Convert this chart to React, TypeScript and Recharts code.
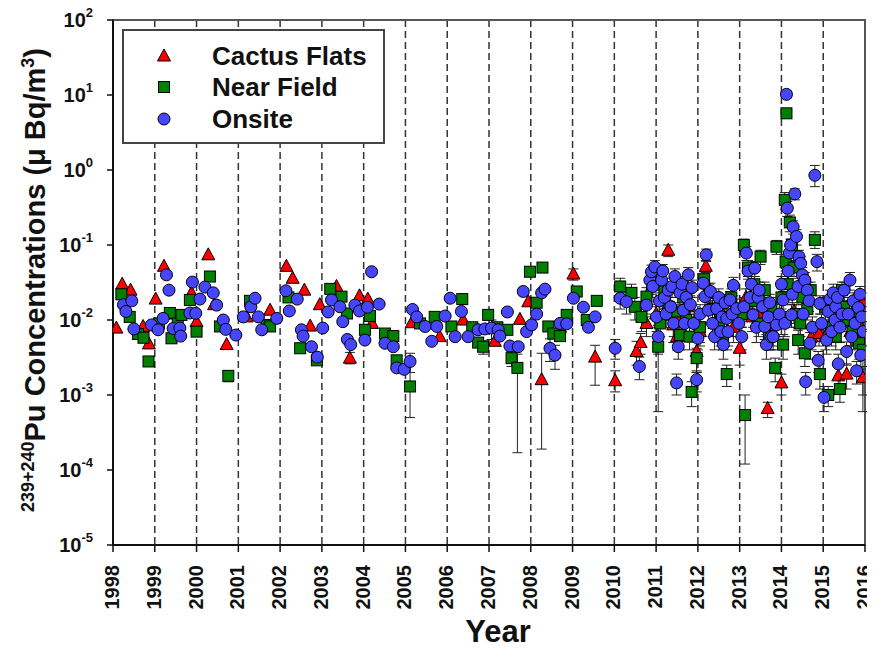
import React from 'react';
import {
  ScatterChart,
  Scatter,
  XAxis,
  YAxis,
  CartesianGrid,
  ErrorBar,
  Legend,
  ReferenceArea,
} from 'recharts';

// [year, value, bar low end, bar high end] ; bar ends only where the bar is visible
type Pt = [number, number, number?, number?];

const years = [
  1998, 1999, 2000, 2001, 2002, 2003, 2004, 2005, 2006, 2007, 2008, 2009, 2010, 2011, 2012,
  2013, 2014, 2015, 2016,
];
const decades = [1e-5, 1e-4, 1e-3, 1e-2, 1e-1, 1, 10, 100];

const cactusFlats: Pt[] = [
  [1998.08, 0.0078], [1998.22, 0.03], [1998.42, 0.025], [1998.72, 0.0082], [1998.86, 0.0048],
  [1999.02, 0.019], [1999.22, 0.052], [1999.46, 0.012], [1999.88, 0.023], [2000.0, 0.0095],
  [2000.28, 0.074], [2000.42, 0.016], [2000.72, 0.0047], [2001.2, 0.011], [2001.76, 0.0135],
  [2002.15, 0.052], [2002.3, 0.036], [2002.58, 0.025], [2002.72, 0.0083], [2002.95, 0.016],
  [2003.35, 0.028], [2003.67, 0.0031, 0.0026, 0.0037], [2003.9, 0.021], [2004.1, 0.019],
  [2004.2, 0.009], [2004.55, 0.0054], [2005.15, 0.0092], [2005.82, 0.006], [2006.38, 0.01],
  [2007.14, 0.0052], [2007.74, 0.0102], [2007.94, 0.0175], [2008.26, 0.0016, 0.00019, 0.0036],
  [2008.7, 0.008], [2009.02, 0.041, 0.034, 0.048], [2009.54, 0.0032, 0.00135, 0.0046],
  [2010.02, 0.00155, 0.0011, 0.0021], [2010.53, 0.0038, 0.0025, 0.0052],
  [2010.63, 0.005, 0.0035, 0.0066], [2010.77, 0.009, 0.006, 0.012], [2011.0, 0.012, 0.008, 0.016],
  [2011.15, 0.02, 0.014, 0.026], [2011.29, 0.085, 0.07, 0.1], [2011.41, 0.0086, 0.005, 0.012],
  [2011.5, 0.006, 0.004, 0.008], [2011.6, 0.011, 0.007, 0.015], [2011.8, 0.015, 0.01, 0.02],
  [2011.97, 0.0038, 0.002, 0.0056], [2012.05, 0.007, 0.0045, 0.0095],
  [2012.19, 0.052, 0.043, 0.062], [2012.4, 0.009, 0.006, 0.012], [2012.55, 0.013, 0.009, 0.017],
  [2012.7, 0.007, 0.004, 0.01], [2012.85, 0.008, 0.005, 0.011], [2013.0, 0.0042, 0.0025, 0.006],
  [2013.15, 0.02, 0.014, 0.026], [2013.3, 0.011, 0.007, 0.015], [2013.45, 0.012, 0.008, 0.016],
  [2013.67, 0.00066, 0.0005, 0.0008], [2013.8, 0.007, 0.0045, 0.0095],
  [2014.0, 0.00145, 0.001, 0.0019], [2014.15, 0.03, 0.022, 0.038], [2014.3, 0.013, 0.009, 0.017],
  [2014.45, 0.009, 0.006, 0.012], [2014.6, 0.02, 0.014, 0.026], [2014.72, 0.006, 0.004, 0.008],
  [2014.9, 0.0066, 0.0045, 0.009], [2015.05, 0.006, 0.004, 0.008], [2015.2, 0.009, 0.006, 0.012],
  [2015.36, 0.0018, 0.0012, 0.0024], [2015.45, 0.012, 0.008, 0.016],
  [2015.56, 0.0019, 0.0012, 0.0026], [2015.65, 0.007, 0.0045, 0.0095],
  [2015.75, 0.012, 0.008, 0.016], [2015.85, 0.009, 0.006, 0.012], [2015.92, 0.018, 0.013, 0.023],
  [2015.95, 0.0017, 0.001, 0.0024],
];

const nearField: Pt[] = [
  [1998.2, 0.022], [1998.4, 0.011], [1998.6, 0.0065], [1998.73, 0.0058],
  [1998.85, 0.0028, 0.0024, 0.0032], [1999.1, 0.009], [1999.36, 0.0124], [1999.4, 0.0057],
  [1999.55, 0.009], [1999.64, 0.0117], [1999.84, 0.0185], [2000.0, 0.007], [2000.32, 0.038],
  [2000.56, 0.0082], [2000.76, 0.0018, 0.0015, 0.0021], [2001.28, 0.018], [2001.68, 0.0086],
  [2001.76, 0.0082], [2002.2, 0.02], [2002.48, 0.0042], [2002.88, 0.0029], [2003.2, 0.026],
  [2003.47, 0.0205], [2003.6, 0.0122], [2004.03, 0.0074], [2004.15, 0.0113], [2004.51, 0.0066],
  [2004.71, 0.0061], [2004.79, 0.0029], [2005.11, 0.0013, 0.0005, 0.0025], [2005.35, 0.009],
  [2005.7, 0.011], [2006.1, 0.0082], [2006.36, 0.019], [2006.6, 0.008], [2006.74, 0.005],
  [2006.86, 0.0044, 0.0035, 0.0053], [2006.98, 0.0117], [2007.2, 0.008], [2007.44, 0.0074],
  [2007.54, 0.0031, 0.0024, 0.0038], [2007.68, 0.0023, 0.00017, 0.0035], [2007.98, 0.044],
  [2008.14, 0.017], [2008.28, 0.05], [2008.42, 0.0082], [2008.54, 0.0066], [2008.7, 0.0061],
  [2008.86, 0.0117], [2009.1, 0.024], [2009.34, 0.01], [2009.58, 0.018],
  [2010.14, 0.028, 0.02, 0.036], [2010.41, 0.023, 0.016, 0.03], [2010.49, 0.015, 0.01, 0.02],
  [2010.65, 0.011, 0.007, 0.015], [2010.77, 0.0205, 0.014, 0.027], [2010.9, 0.03, 0.022, 0.038],
  [2011.05, 0.0044, 0.0006, 0.0085], [2011.1, 0.009, 0.006, 0.012], [2011.2, 0.025, 0.018, 0.032],
  [2011.3, 0.015, 0.01, 0.02], [2011.45, 0.013, 0.009, 0.017], [2011.57, 0.0063, 0.004, 0.0085],
  [2011.65, 0.02, 0.014, 0.026], [2011.72, 0.01, 0.007, 0.013], [2011.8, 0.006, 0.004, 0.008],
  [2011.85, 0.0011, 0.0007, 0.0015], [2011.97, 0.0031, 0.002, 0.0042],
  [2012.05, 0.008, 0.005, 0.011], [2012.15, 0.035, 0.026, 0.044], [2012.27, 0.023, 0.016, 0.03],
  [2012.35, 0.014, 0.01, 0.018], [2012.5, 0.009, 0.006, 0.012], [2012.6, 0.006, 0.004, 0.008],
  [2012.69, 0.0019, 0.0013, 0.0025], [2012.8, 0.02, 0.014, 0.026], [2012.9, 0.012, 0.008, 0.016],
  [2013.05, 0.012, 0.008, 0.016], [2013.1, 0.1, 0.08, 0.12], [2013.13, 0.00054, 0.00012, 0.001],
  [2013.2, 0.05, 0.038, 0.062], [2013.3, 0.018, 0.013, 0.023], [2013.35, 0.03, 0.022, 0.038],
  [2013.45, 0.009, 0.006, 0.012], [2013.5, 0.07, 0.055, 0.085], [2013.6, 0.025, 0.018, 0.032],
  [2013.7, 0.006, 0.004, 0.008], [2013.76, 0.015, 0.01, 0.02], [2013.85, 0.0023, 0.0015, 0.0031],
  [2013.88, 0.095, 0.075, 0.115], [2014.0, 0.02, 0.014, 0.026], [2014.04, 0.0047, 0.003, 0.0064],
  [2014.08, 0.4, 0.3, 0.5], [2014.1, 0.06, 0.045, 0.075], [2014.12, 5.7, 5.0, 6.4],
  [2014.15, 0.03, 0.022, 0.038], [2014.2, 0.2, 0.15, 0.25], [2014.25, 0.1, 0.08, 0.12],
  [2014.3, 0.05, 0.038, 0.062], [2014.35, 0.012, 0.008, 0.016], [2014.4, 0.0054, 0.0035, 0.0073],
  [2014.45, 0.009, 0.006, 0.012], [2014.5, 0.02, 0.014, 0.026], [2014.56, 0.0036, 0.0024, 0.0048],
  [2014.62, 0.014, 0.01, 0.018], [2014.7, 0.025, 0.018, 0.032], [2014.8, 0.117, 0.09, 0.15],
  [2014.92, 0.0019, 0.0012, 0.0026], [2015.05, 0.015, 0.01, 0.02], [2015.12, 0.001, 0.0007, 0.0013],
  [2015.2, 0.008, 0.005, 0.011], [2015.3, 0.006, 0.004, 0.008], [2015.4, 0.0012, 0.0008, 0.0016],
  [2015.45, 0.025, 0.018, 0.032], [2015.5, 0.015, 0.01, 0.02], [2015.6, 0.01, 0.007, 0.013],
  [2015.7, 0.007, 0.0045, 0.0095], [2015.8, 0.013, 0.009, 0.017], [2015.86, 0.0049, 0.003, 0.0068],
  [2015.95, 0.004, 0.0006, 0.0075],
];

const onsite: Pt[] = [
  [1998.25, 0.016], [1998.31, 0.013], [1998.45, 0.018], [1998.5, 0.0076], [1998.92, 0.0086],
  [1999.08, 0.0074], [1999.2, 0.0105], [1999.28, 0.04], [1999.34, 0.025], [1999.44, 0.0077],
  [1999.6, 0.0078], [1999.62, 0.0061], [1999.84, 0.0124], [1999.9, 0.032], [1999.98, 0.0123],
  [2000.08, 0.019], [2000.2, 0.0275], [2000.4, 0.023], [2000.48, 0.0158], [2000.64, 0.01],
  [2000.7, 0.0075], [2000.94, 0.0063], [2001.12, 0.011], [2001.3, 0.015], [2001.4, 0.0195],
  [2001.48, 0.011], [2001.56, 0.0074], [2001.92, 0.0105], [2002.14, 0.0245], [2002.22, 0.0132],
  [2002.41, 0.019], [2002.51, 0.0074], [2002.55, 0.0061], [2002.75, 0.0044], [2002.89, 0.0032],
  [2003.02, 0.0078], [2003.15, 0.0128], [2003.23, 0.0185], [2003.43, 0.015], [2003.5, 0.0095],
  [2003.61, 0.0055], [2003.69, 0.0047], [2003.79, 0.0158], [2003.9, 0.0132], [2004.03, 0.0054],
  [2004.09, 0.0148], [2004.19, 0.044], [2004.37, 0.0163], [2004.51, 0.0049], [2004.71, 0.0044],
  [2004.79, 0.0023], [2004.97, 0.0022], [2005.11, 0.0028, 0.002, 0.0036], [2005.17, 0.0138],
  [2005.27, 0.011], [2005.47, 0.0082], [2005.63, 0.0052], [2005.75, 0.0082], [2005.95, 0.0113],
  [2006.07, 0.0195], [2006.19, 0.006], [2006.34, 0.013], [2006.5, 0.006], [2006.74, 0.0074],
  [2006.9, 0.0076], [2007.06, 0.0078, 0.0055, 0.01], [2007.22, 0.0074], [2007.26, 0.0061],
  [2007.44, 0.0128], [2007.5, 0.0045], [2007.7, 0.0044], [2007.82, 0.024], [2007.9, 0.007],
  [2008.02, 0.0086], [2008.14, 0.012], [2008.26, 0.023], [2008.34, 0.0258],
  [2008.46, 0.0042, 0.0028, 0.0056], [2008.58, 0.0034, 0.0022, 0.0046], [2008.7, 0.009],
  [2008.86, 0.0089], [2009.02, 0.0195], [2009.26, 0.0148], [2009.38, 0.008], [2009.54, 0.011],
  [2010.02, 0.0042, 0.003, 0.0055], [2010.14, 0.0195, 0.014, 0.025], [2010.29, 0.0175, 0.012, 0.023],
  [2010.6, 0.0024, 0.0016, 0.0032], [2010.77, 0.0158, 0.011, 0.021], [2010.85, 0.034, 0.025, 0.043],
  [2010.89, 0.044, 0.034, 0.054], [2010.92, 0.028, 0.02, 0.036], [2010.97, 0.051, 0.04, 0.062],
  [2011.01, 0.011, 0.007, 0.015], [2011.05, 0.006, 0.0035, 0.0085], [2011.08, 0.018, 0.013, 0.023],
  [2011.13, 0.034, 0.025, 0.043], [2011.16, 0.045, 0.035, 0.055], [2011.2, 0.02, 0.014, 0.026],
  [2011.24, 0.012, 0.008, 0.016], [2011.29, 0.025, 0.018, 0.032], [2011.35, 0.015, 0.01, 0.02],
  [2011.38, 0.028, 0.02, 0.036], [2011.42, 0.009, 0.006, 0.012], [2011.45, 0.038, 0.028, 0.048],
  [2011.49, 0.00145, 0.001, 0.0019], [2011.53, 0.0044, 0.003, 0.0058], [2011.57, 0.023, 0.016, 0.03],
  [2011.62, 0.03, 0.022, 0.038], [2011.65, 0.0135, 0.009, 0.018], [2011.68, 0.009, 0.006, 0.012],
  [2011.72, 0.02, 0.014, 0.026], [2011.77, 0.04, 0.03, 0.05], [2011.82, 0.016, 0.011, 0.021],
  [2011.86, 0.027, 0.02, 0.034], [2011.9, 0.009, 0.006, 0.012], [2011.97, 0.0016, 0.0011, 0.0021],
  [2012.0, 0.0057, 0.004, 0.0075], [2012.05, 0.012, 0.008, 0.016], [2012.13, 0.031, 0.022, 0.04],
  [2012.17, 0.0205, 0.014, 0.027], [2012.2, 0.074, 0.06, 0.088], [2012.25, 0.0135, 0.009, 0.018],
  [2012.3, 0.024, 0.017, 0.031], [2012.35, 0.009, 0.006, 0.012], [2012.4, 0.006, 0.004, 0.008],
  [2012.45, 0.0142, 0.01, 0.019], [2012.5, 0.02, 0.014, 0.026], [2012.55, 0.007, 0.0045, 0.0095],
  [2012.58, 0.011, 0.007, 0.015], [2012.61, 0.0047, 0.003, 0.0064], [2012.65, 0.017, 0.012, 0.022],
  [2012.69, 0.0105, 0.007, 0.014], [2012.72, 0.007, 0.0045, 0.0095], [2012.77, 0.0185, 0.013, 0.024],
  [2012.82, 0.012, 0.008, 0.016], [2012.85, 0.029, 0.021, 0.037], [2012.93, 0.0142, 0.01, 0.019],
  [2012.98, 0.009, 0.006, 0.012], [2013.05, 0.006, 0.004, 0.008], [2013.1, 0.015, 0.01, 0.02],
  [2013.16, 0.078, 0.062, 0.095], [2013.2, 0.045, 0.035, 0.055], [2013.25, 0.02, 0.014, 0.026],
  [2013.28, 0.03, 0.022, 0.038], [2013.32, 0.0117, 0.008, 0.016], [2013.36, 0.049, 0.038, 0.06],
  [2013.4, 0.008, 0.005, 0.011], [2013.44, 0.02, 0.014, 0.026], [2013.47, 0.025, 0.018, 0.032],
  [2013.55, 0.015, 0.01, 0.02], [2013.6, 0.0082, 0.0055, 0.011], [2013.64, 0.0047, 0.003, 0.0064],
  [2013.68, 0.011, 0.007, 0.015], [2013.72, 0.017, 0.012, 0.022], [2013.75, 0.006, 0.004, 0.008],
  [2013.8, 0.006, 0.004, 0.008], [2013.88, 0.0086, 0.006, 0.011], [2013.95, 0.012, 0.008, 0.016],
  [2014.0, 0.03, 0.022, 0.038], [2014.04, 0.0185, 0.013, 0.024], [2014.08, 0.009, 0.006, 0.012],
  [2014.12, 10.2, 9.0, 11.5], [2014.14, 0.31, 0.24, 0.38], [2014.16, 0.045, 0.035, 0.055],
  [2014.19, 0.078, 0.06, 0.096], [2014.22, 0.1, 0.08, 0.12], [2014.24, 0.0117, 0.008, 0.016],
  [2014.26, 0.022, 0.016, 0.028], [2014.28, 0.175, 0.14, 0.21], [2014.32, 0.48, 0.4, 0.56],
  [2014.36, 0.13, 0.1, 0.16], [2014.4, 0.028, 0.02, 0.036], [2014.42, 0.07, 0.055, 0.085],
  [2014.46, 0.057, 0.045, 0.07], [2014.5, 0.04, 0.03, 0.05], [2014.52, 0.012, 0.008, 0.016],
  [2014.56, 0.034, 0.025, 0.043], [2014.58, 0.0015, 0.001, 0.002], [2014.62, 0.025, 0.018, 0.032],
  [2014.66, 0.018, 0.013, 0.023], [2014.68, 0.0049, 0.003, 0.0068], [2014.74, 0.008, 0.005, 0.011],
  [2014.8, 0.85, 0.6, 1.15], [2014.85, 0.06, 0.045, 0.075], [2014.88, 0.0029, 0.002, 0.0038],
  [2014.92, 0.0166, 0.012, 0.021], [2014.96, 0.009, 0.006, 0.012], [2015.02, 0.00093, 0.0006, 0.0013],
  [2015.08, 0.0054, 0.0035, 0.0073], [2015.12, 0.013, 0.009, 0.017], [2015.16, 0.019, 0.013, 0.025],
  [2015.2, 0.007, 0.0045, 0.0095], [2015.24, 0.023, 0.016, 0.03], [2015.28, 0.01, 0.007, 0.013],
  [2015.3, 0.015, 0.01, 0.02], [2015.34, 0.02, 0.014, 0.026], [2015.36, 0.0026, 0.0017, 0.0035],
  [2015.4, 0.008, 0.005, 0.011], [2015.45, 0.012, 0.008, 0.016], [2015.5, 0.025, 0.018, 0.032],
  [2015.56, 0.0038, 0.0025, 0.0051], [2015.6, 0.012, 0.008, 0.016], [2015.64, 0.034, 0.025, 0.043],
  [2015.68, 0.006, 0.004, 0.008], [2015.72, 0.018, 0.013, 0.023], [2015.76, 0.009, 0.006, 0.012],
  [2015.8, 0.0021, 0.0014, 0.0028], [2015.84, 0.0146, 0.01, 0.019], [2015.88, 0.022, 0.016, 0.028],
  [2015.9, 0.0034, 0.0022, 0.0046], [2015.92, 0.011, 0.007, 0.015], [2015.96, 0.007, 0.0045, 0.0095],
];

const FONT = '"Liberation Sans", Arial, Helvetica, sans-serif';

const seriesList = [
  { name: 'Cactus Flats', color: '#ff0000', kind: 'triangle', points: cactusFlats },
  { name: 'Near Field', color: '#008000', kind: 'square', points: nearField },
  { name: 'Onsite', color: '#4646ff', kind: 'circle', points: onsite },
];

const toRows = (pts: Pt[]) =>
  pts.map(([x, y, lo, hi]) => ({
    x,
    y,
    err: lo != null && hi != null ? [y - lo, hi - y] : undefined,
  }));

const Marker = ({ cx, cy, kind, fill }: any) => {
  if (cx == null || cy == null) return null;
  if (kind === 'triangle') {
    return (
      <polygon
        points={`${cx},${cy - 7} ${cx + 6.5},${cy + 5} ${cx - 6.5},${cy + 5}`}
        fill={fill}
        stroke="#000"
        strokeWidth={1}
      />
    );
  }
  if (kind === 'square') {
    return <rect x={cx - 5.5} y={cy - 5.5} width={11} height={11} fill={fill} stroke="#000" strokeWidth={1} />;
  }
  return <circle cx={cx} cy={cy} r={6} fill={fill} stroke="#000" strokeWidth={1} />;
};

const YearTick = ({ x, y, payload }: any) => (
  <text
    transform={`rotate(-90 ${x + 6} ${y})`}
    x={x + 6}
    y={y}
    textAnchor="end"
    fontSize={20}
    fontWeight="bold"
    fontFamily={FONT}
    fill="#111"
  >
    {payload.value}
  </text>
);

const DecadeTick = ({ x, y, payload }: any) => {
  const exp = Math.round(Math.log10(payload.value));
  return (
    <text x={x - 10} y={y} textAnchor="end" fontWeight="bold" fontFamily={FONT} fill="#111">
      <tspan fontSize={20} dy={7}>10</tspan>
      <tspan fontSize={13} dy={-10}>{exp}</tspan>
    </text>
  );
};

const YLabel = () => (
  <text
    transform="rotate(-90 37 272)"
    x={37}
    y={272}
    textAnchor="middle"
    fontWeight="bold"
    fontFamily={FONT}
    fontSize={29}
    fill="#111"
  >
    <tspan fontSize={18} dy={-11}>239+240</tspan>
    <tspan dy={11}>Pu Concentrations (μ Bq/m</tspan>
    <tspan fontSize={18} dy={-11}>3</tspan>
    <tspan dy={11}>)</tspan>
  </text>
);

const XLabel = () => (
  <text x={490} y={634} textAnchor="middle" fontWeight="bold" fontFamily={FONT} fontSize={31} fill="#111">
    Year
  </text>
);

const LegendBox = () => (
  <div
    style={{
      width: 263,
      height: 115,
      boxSizing: 'border-box',
      border: '2px solid #444',
      background: '#fff',
      paddingTop: 9,
      fontFamily: FONT,
      fontWeight: 'bold',
      fontSize: 26,
      color: '#111',
    }}
  >
    {seriesList.map((s) => (
      <div key={s.name} style={{ display: 'flex', alignItems: 'center', height: 31.5 }}>
        <svg width={88} height={20} style={{ flex: 'none' }}>
          <Marker cx={40} cy={10} kind={s.kind} fill={s.color} />
        </svg>
        <span style={{ lineHeight: '26px' }}>{s.name}</span>
      </div>
    ))}
  </div>
);

export default function App() {
  return (
    <div style={{ width: 867, height: 642 }}>
      <style>{`body { margin-bottom: 0; } .recharts-surface, .recharts-wrapper { overflow: visible; }`}</style>
      <ScatterChart width={867} height={642} margin={{ top: 12, right: 10, bottom: 8, left: 0 }}>
        <CartesianGrid vertical horizontal={false} stroke="#333" strokeWidth={1.5} strokeDasharray="7 4" />
        <XAxis
          type="number"
          dataKey="x"
          domain={[1998, 2016]}
          ticks={years}
          allowDataOverflow
          height={97}
          tick={<YearTick />}
          tickSize={7}
          tickMargin={13}
          interval={0}
          axisLine={{ stroke: '#111', strokeWidth: 2 }}
          tickLine={{ stroke: '#111', strokeWidth: 1.5 }}
          label={{ content: XLabel }}
        />
        <YAxis
          type="number"
          dataKey="y"
          scale="log"
          domain={[1e-5, 100]}
          ticks={decades}
          allowDataOverflow
          width={105}
          tick={<DecadeTick />}
          tickSize={6}
          tickMargin={4}
          interval={0}
          axisLine={{ stroke: '#111', strokeWidth: 2 }}
          tickLine={{ stroke: '#111', strokeWidth: 1.5 }}
          label={{ content: YLabel }}
        />
        <ReferenceArea x1={1998} x2={2016} y1={1e-5} y2={100} fill="none" stroke="#555" strokeWidth={2} />
        <Legend
          verticalAlign="middle"
          align="center"
          content={<LegendBox />}
          wrapperStyle={{ left: 114, top: 21, width: 263, height: 115 }}
        />
        {seriesList.map((s) => (
          <Scatter
            key={s.name}
            name={s.name}
            data={toRows(s.points)}
            fill={s.color}
            isAnimationActive={false}
            shape={(p: any) => <Marker cx={p.cx} cy={p.cy} kind={s.kind} fill={s.color} />}
          >
            <ErrorBar dataKey="err" direction="y" width={5} stroke="#222" strokeWidth={1} />
          </Scatter>
        ))}
      </ScatterChart>
    </div>
  );
}
